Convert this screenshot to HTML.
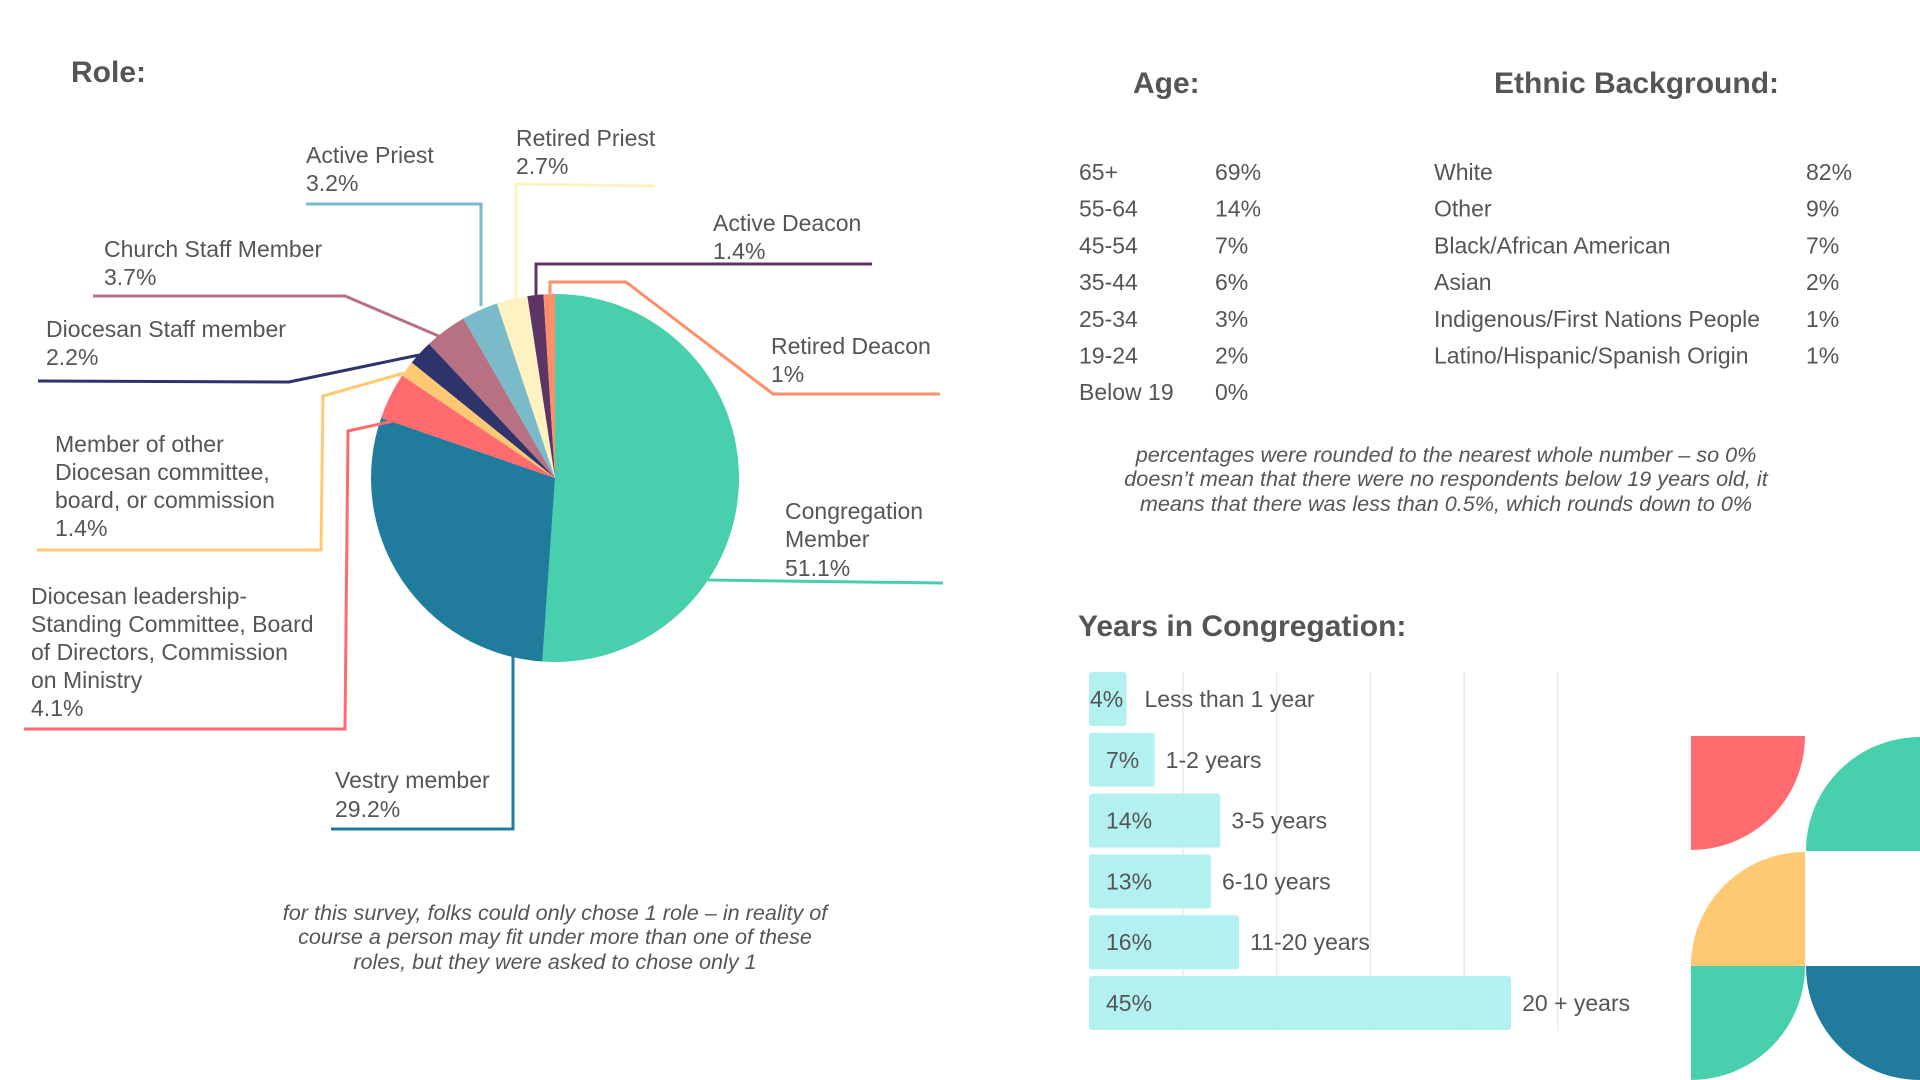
<!DOCTYPE html>
<html><head><meta charset="utf-8"><style>
html,body{margin:0;padding:0;background:#fff;}
svg{display:block;font-family:"Liberation Sans",sans-serif;}
.t{fill:#555;font-size:23px;}
.h{fill:#555;font-size:30px;font-weight:bold;}
.n{fill:#555;font-size:21.6px;font-style:italic;}
</style></head><body>
<svg id="s" width="1920" height="1080" viewBox="0 0 1920 1080">
<text class="h" x="71" y="82">Role:</text>
<text class="h" x="1133" y="93">Age:</text>
<text class="h" x="1494" y="93">Ethnic Background:</text>
<text class="h" x="1078" y="636">Years in Congregation:</text>
<g id="pie"></g>
<g id="leaders" fill="none" stroke-width="3">
<polyline points="481,306 481,204 306,204" stroke="#7BBAC9"/>
<polyline points="516,300 516,184 655,186" stroke="#FFF2C2"/>
<polyline points="536,296 536,264 872,264" stroke="#5C3564"/>
<polyline points="550,294 550,282 626,282 773,394 940,394" stroke="#FF8F6B"/>
<polyline points="708,580 943,583" stroke="#48CFAE"/>
<polyline points="513,655 513,829 331,829" stroke="#217B9C"/>
<polyline points="416,416 348,431 345,729 24,729" stroke="#FF6B6F"/>
<polyline points="404,373 323,396 321,550 37,550" stroke="#FFC973"/>
<polyline points="419,355 289,382 38,381" stroke="#2E346B"/>
<polyline points="441,337 345,296 93,296" stroke="#B87083"/>
</g>
<g>
<text class="t" x="306" y="163">Active Priest</text><text class="t" x="306" y="191">3.2%</text>
<text class="t" x="516" y="146">Retired Priest</text><text class="t" x="516" y="174">2.7%</text>
<text class="t" x="713" y="231">Active Deacon</text><text class="t" x="713" y="259">1.4%</text>
<text class="t" x="771" y="354">Retired Deacon</text><text class="t" x="771" y="382">1%</text>
<text class="t" x="785" y="519">Congregation</text><text class="t" x="785" y="547">Member</text><text class="t" x="785" y="576">51.1%</text>
<text class="t" x="335" y="788">Vestry member</text><text class="t" x="335" y="817">29.2%</text>
<text class="t" x="31" y="604">Diocesan leadership-</text><text class="t" x="31" y="632">Standing Committee, Board</text><text class="t" x="31" y="660">of Directors, Commission</text><text class="t" x="31" y="688">on Ministry</text><text class="t" x="31" y="716">4.1%</text>
<text class="t" x="55" y="452">Member of other</text><text class="t" x="55" y="480">Diocesan committee,</text><text class="t" x="55" y="508">board, or commission</text><text class="t" x="55" y="536">1.4%</text>
<text class="t" x="46" y="337">Diocesan Staff member</text><text class="t" x="46" y="365">2.2%</text>
<text class="t" x="104" y="257">Church Staff Member</text><text class="t" x="104" y="285">3.7%</text>
</g>
<g text-anchor="middle">
<text class="n" x="555" y="920">for this survey, folks could only chose 1 role – in reality of</text>
<text class="n" x="555" y="944">course a person may fit under more than one of these</text>
<text class="n" x="555" y="969">roles, but they were asked to chose only 1</text>
</g>
<g id="age"></g>
<g id="eth"></g>
<g text-anchor="middle">
<text class="n" x="1446" y="462">percentages were rounded to the nearest whole number – so 0%</text>
<text class="n" x="1446" y="486">doesn’t mean that there were no respondents below 19 years old, it</text>
<text class="n" x="1446" y="511">means that there was less than 0.5%, which rounds down to 0%</text>
</g>
<g id="bars"></g>
<g>
<path d="M1691,736 h114 a114,114 0 0 1 -114,114 z" fill="#FF6B6F"/>
<path d="M1920,851 h-114 a114,114 0 0 1 114,-114 z" fill="#48CFAE"/>
<path d="M1805,966 h-114 a114,114 0 0 1 114,-114 z" fill="#FFC973"/>
<path d="M1691,966 h114 a114,114 0 0 1 -114,114 z" fill="#48CFAE"/>
<path d="M1920,966 h-114 a114,114 0 0 0 114,114 z" fill="#217B9C"/>
</g>
</svg>
<script>
const roleNames=["Congregation Member","Vestry member","Diocesan leadership","Member of other committee","Diocesan Staff member","Church Staff Member","Active Priest","Retired Priest","Active Deacon","Retired Deacon"];
const roleValues=[51.1,29.2,4.1,1.4,2.2,3.7,3.2,2.7,1.4,1];
const roleColors=["#48CFAE","#217B9C","#FF6B6F","#FFC973","#2E346B","#B87083","#7BBAC9","#FFF2C2","#5C3564","#FF8F6B"];
const ageLabels=["65+","55-64","45-54","35-44","25-34","19-24","Below 19"];
const ageValues=["69%","14%","7%","6%","3%","2%","0%"];
const ethLabels=["White","Other","Black/African American","Asian","Indigenous/First Nations People","Latino/Hispanic/Spanish Origin"];
const ethValues=["82%","9%","7%","2%","1%","1%"];
const yearCats=["Less than 1 year","1-2 years","3-5 years","6-10 years","11-20 years","20 + years"];
const yearValues=[4,7,14,13,16,45];
const NS="http://www.w3.org/2000/svg";
function mk(tag,attrs,parent){const e=document.createElementNS(NS,tag);for(const k in attrs)e.setAttribute(k,attrs[k]);parent.appendChild(e);return e;}
const cx=555,cy=478,R=184,pie=document.getElementById('pie');
const total=roleValues.reduce((a,b)=>a+b,0);
let acc=0;
roleValues.forEach((v,i)=>{
  const a0=acc/total*2*Math.PI;acc+=v;const a1=acc/total*2*Math.PI;
  const x0=cx+R*Math.sin(a0),y0=cy-R*Math.cos(a0),x1=cx+R*Math.sin(a1),y1=cy-R*Math.cos(a1);
  const p=mk('path',{d:`M${cx},${cy} L${x0},${y0} A${R},${R} 0 ${(a1-a0)>Math.PI?1:0} 1 ${x1},${y1} Z`,fill:roleColors[i]},pie);
  
  
});
const ag=document.getElementById('age');
ageLabels.forEach((l,i)=>{
  const y=180+i*36.7;
  const a=mk('text',{x:1079,y:y,class:'t'},ag);a.textContent=l;
  
  
  const b=mk('text',{x:1215,y:y,class:'t'},ag);b.textContent=ageValues[i];
  
  
});
const et=document.getElementById('eth');
ethLabels.forEach((l,i)=>{
  const y=180+i*36.7;
  const a=mk('text',{x:1434,y:y,class:'t'},et);a.textContent=l;
  
  
  const b=mk('text',{x:1806,y:y,class:'t'},et);b.textContent=ethValues[i];
  
  
});
const bg=document.getElementById('bars');
const x0=1089,pxPer=9.38,barH=54;
const yc=i=>699+i*60.8;
for(let g=1;g<=5;g++){
  const l=mk('line',{x1:x0+g*10*pxPer,x2:x0+g*10*pxPer,y1:672,y2:1031,stroke:'#e8e8e8','stroke-width':1.5},bg);
  
  
}
yearValues.forEach((v,i)=>{
  const w=v*pxPer,y=yc(i);
  const r=mk('rect',{x:x0,y:y-barH/2,width:w,height:barH,rx:3,fill:'#B3F0F0'},bg);
  
  
  const t=mk('text',{x:v<5?x0+1:x0+17,y:y+8,class:'t'},bg);t.textContent=v+'%';
  
  
  const c=mk('text',{x:x0+w+(v<5?18:11),y:y+8,class:'t'},bg);c.textContent=yearCats[i];
  
  
});
</script>
</body></html>
